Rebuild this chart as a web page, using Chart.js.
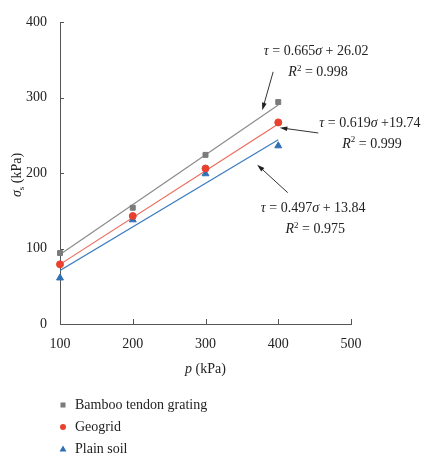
<!DOCTYPE html>
<html>
<head>
<meta charset="utf-8">
<script src="https://cdn.jsdelivr.net/npm/chart.js@4"></script>
<style>
    html, body { margin: 0; padding: 0; background: #fff; }
    #wrap { width: 422px; height: 457px; }
</style>
</head>
<body>
<div id="wrap"><canvas id="shearChart" width="422" height="457"></canvas></div>
<script>
const pressures = [100, 200, 300, 400];
const bambooShear = [94, 154, 224, 294];
const geogridShear = [79, 143, 206, 267];
const plainShear = [61, 138, 199, 236];

// fitted lines (end points as drawn)
const fitPressures = [100, 400];
const bambooFit = [92, 290];
const geogridFit = [79, 265];
const plainFit = [71, 244];

const seriesNames = ['Bamboo tendon grating', 'Geogrid', 'Plain soil'];
const xTicks = [100, 200, 300, 400, 500];
const yTicks = [0, 100, 200, 300, 400];

const SERIF = '"Liberation Serif", "DejaVu Serif", serif';
const colors = {
    bamboo: '#7b7b7b',
    geogrid: '#e8412f',
    plain: '#2f70b5'
};

const toPoints = (xs, ys) => xs.map((x, i) => ({ x: x, y: ys[i] }));

// annotation labels, placed in data units (text baseline, arrow tail, arrow head)
const notes = [
    { eq: ['0.665', '+ 26.02'], r2: '0.998', at: [452, 356], from: [393, 334], to: [378, 283] },
    { eq: ['0.619', '+19.74'], r2: '0.999', at: [526, 261], from: [455, 253], to: [402, 260] },
    { eq: ['0.497', '+ 13.84'], r2: '0.975', at: [448, 148], from: [413, 174], to: [371, 211] }
];

// draws text made of styled runs, centred on x
function drawRich(ctx, parts, x, y, size) {
    const fontFor = p => (p.i ? 'italic ' : '') + (p.sup ? Math.round(size * 0.65) : size) + 'px ' + SERIF;
    let total = 0;
    parts.forEach(p => { ctx.font = fontFor(p); total += ctx.measureText(p.t).width; });
    let cx = x - total / 2;
    ctx.textAlign = 'left';
    ctx.textBaseline = 'alphabetic';
    parts.forEach(p => {
        ctx.font = fontFor(p);
        ctx.fillText(p.t, cx, p.sup ? y - size * 0.4 : y);
        cx += ctx.measureText(p.t).width;
    });
}

function arrow(ctx, x1, y1, x2, y2) {
    const ang = Math.atan2(y2 - y1, x2 - x1);
    const head = 8;
    ctx.beginPath();
    ctx.moveTo(x1, y1);
    ctx.lineTo(x2 - Math.cos(ang) * head * 0.8, y2 - Math.sin(ang) * head * 0.8);
    ctx.stroke();
    ctx.beginPath();
    ctx.moveTo(x2, y2);
    ctx.lineTo(x2 - head * Math.cos(ang - 0.3), y2 - head * Math.sin(ang - 0.3));
    ctx.lineTo(x2 - head * Math.cos(ang + 0.3), y2 - head * Math.sin(ang + 0.3));
    ctx.closePath();
    ctx.fill();
}

const extrasPlugin = {
    id: 'extras',
    afterDraw(chart) {
        const ctx = chart.ctx;
        const xs = chart.scales.x;
        const ys = chart.scales.y;
        const area = chart.chartArea;
        ctx.save();

        // inward tick marks
        ctx.strokeStyle = '#555';
        ctx.lineWidth = 1;
        xTicks.forEach(v => {
            const px = Math.round(xs.getPixelForValue(v)) + 0.5;
            ctx.beginPath();
            ctx.moveTo(px, area.bottom);
            ctx.lineTo(px, area.bottom - 5);
            ctx.stroke();
        });
        yTicks.forEach(v => {
            const py = Math.round(ys.getPixelForValue(v)) + 0.5;
            ctx.beginPath();
            ctx.moveTo(area.left, py);
            ctx.lineTo(area.left + 4, py);
            ctx.stroke();
        });

        // annotations
        ctx.fillStyle = '#222';
        ctx.strokeStyle = '#333';
        notes.forEach(n => {
            const tx = xs.getPixelForValue(n.at[0]);
            const ty = ys.getPixelForValue(n.at[1]);
            drawRich(ctx, [{ t: 'τ', i: true }, { t: ' = ' + n.eq[0] }, { t: 'σ', i: true }, { t: ' ' + n.eq[1] }], tx, ty, 14);
            drawRich(ctx, [{ t: 'R', i: true }, { t: '2', sup: true }, { t: ' = ' + n.r2 }], tx + 2, ty + 21, 14);
            arrow(ctx, xs.getPixelForValue(n.from[0]), ys.getPixelForValue(n.from[1]),
                xs.getPixelForValue(n.to[0]), ys.getPixelForValue(n.to[1]));
        });

        // axis titles
        ctx.fillStyle = '#222';
        drawRich(ctx, [{ t: 'p', i: true }, { t: ' (kPa)' }], (area.left + area.right) / 2, area.bottom + 49, 14);
        ctx.save();
        ctx.translate(21, (area.top + area.bottom) / 2 + 2);
        ctx.rotate(-Math.PI / 2);
        ctx.textAlign = 'left';
        ctx.textBaseline = 'alphabetic';
        const sig = 'σ';
        ctx.font = 'italic 14px ' + SERIF;
        const w1 = ctx.measureText(sig).width;
        ctx.font = '9px ' + SERIF;
        const w2 = ctx.measureText('s').width;
        ctx.font = '14px ' + SERIF;
        const w3 = ctx.measureText(' (kPa)').width;
        let cx = -(w1 + w2 + w3) / 2;
        ctx.font = 'italic 14px ' + SERIF;
        ctx.fillText(sig, cx, 0); cx += w1;
        ctx.font = '9px ' + SERIF;
        ctx.fillText('s', cx, 3); cx += w2;
        ctx.font = '14px ' + SERIF;
        ctx.fillText(' (kPa)', cx, 0);
        ctx.restore();

        // legend, stacked below the plot
        const styles = ['rect', 'circle', 'triangle'];
        const cols = [colors.bamboo, colors.geogrid, colors.plain];
        seriesNames.forEach((name, i) => {
            const ly = area.bottom + 81 + i * 22;
            const lx = area.left + 3;
            ctx.fillStyle = cols[i];
            if (styles[i] === 'rect') {
                ctx.fillRect(lx - 2.5, ly - 2.5, 5, 5);
            } else if (styles[i] === 'circle') {
                ctx.beginPath();
                ctx.arc(lx, ly, 3, 0, Math.PI * 2);
                ctx.fill();
            } else {
                ctx.beginPath();
                ctx.moveTo(lx, ly - 3.5);
                ctx.lineTo(lx + 3.5, ly + 2.5);
                ctx.lineTo(lx - 3.5, ly + 2.5);
                ctx.closePath();
                ctx.fill();
            }
            ctx.fillStyle = '#222';
            ctx.font = '14px ' + SERIF;
            ctx.textAlign = 'left';
            ctx.textBaseline = 'middle';
            ctx.fillText(name, lx + 12, ly);
        });
        ctx.restore();
    }
};

const ctx = document.getElementById('shearChart').getContext('2d');
new Chart(ctx, {
    type: 'scatter',
    data: {
        datasets: [
            {
                label: seriesNames[0],
                data: toPoints(pressures, bambooShear),
                backgroundColor: colors.bamboo,
                borderColor: colors.bamboo,
                pointStyle: 'rect',
                pointRadius: 3.5,
                clip: false
            },
            {
                label: seriesNames[1],
                data: toPoints(pressures, geogridShear),
                backgroundColor: colors.geogrid,
                borderColor: colors.geogrid,
                pointStyle: 'circle',
                pointRadius: 3.5,
                clip: false
            },
            {
                label: seriesNames[2],
                data: toPoints(pressures, plainShear),
                backgroundColor: colors.plain,
                borderColor: colors.plain,
                pointStyle: 'triangle',
                pointRadius: 4,
                clip: false
            },
            {
                type: 'line',
                label: 'bamboo fit',
                data: toPoints(fitPressures, bambooFit),
                borderColor: '#8c8c8c',
                borderWidth: 1.2,
                pointRadius: 0
            },
            {
                type: 'line',
                label: 'geogrid fit',
                data: toPoints(fitPressures, geogridFit),
                borderColor: '#ec6a5a',
                borderWidth: 1.2,
                pointRadius: 0
            },
            {
                type: 'line',
                label: 'plain fit',
                data: toPoints(fitPressures, plainFit),
                borderColor: '#3a7cc0',
                borderWidth: 1.2,
                pointRadius: 0
            }
        ]
    },
    options: {
        responsive: false,
        animation: false,
        layout: {
            padding: { left: 0, right: 71, top: 22, bottom: 78 }
        },
        plugins: {
            legend: { display: false },
            tooltip: { enabled: false }
        },
        scales: {
            x: {
                type: 'linear',
                min: 100,
                max: 500,
                afterFit: scale => { scale.height = 55; },
                afterBuildTicks: scale => { scale.ticks = xTicks.map(v => ({ value: v })); },
                border: { color: '#555', width: 1 },
                grid: { display: false },
                ticks: {
                    color: '#222',
                    padding: 4,
                    maxRotation: 0,
                    font: { family: SERIF, size: 14 }
                }
            },
            y: {
                type: 'linear',
                min: 0,
                max: 400,
                afterFit: scale => { scale.width = 60; },
                afterBuildTicks: scale => { scale.ticks = yTicks.map(v => ({ value: v })); },
                border: { color: '#555', width: 1 },
                grid: { display: false },
                ticks: {
                    color: '#222',
                    padding: 5,
                    font: { family: SERIF, size: 14 }
                }
            }
        }
    },
    plugins: [extrasPlugin]
});
</script>
</body>
</html>
